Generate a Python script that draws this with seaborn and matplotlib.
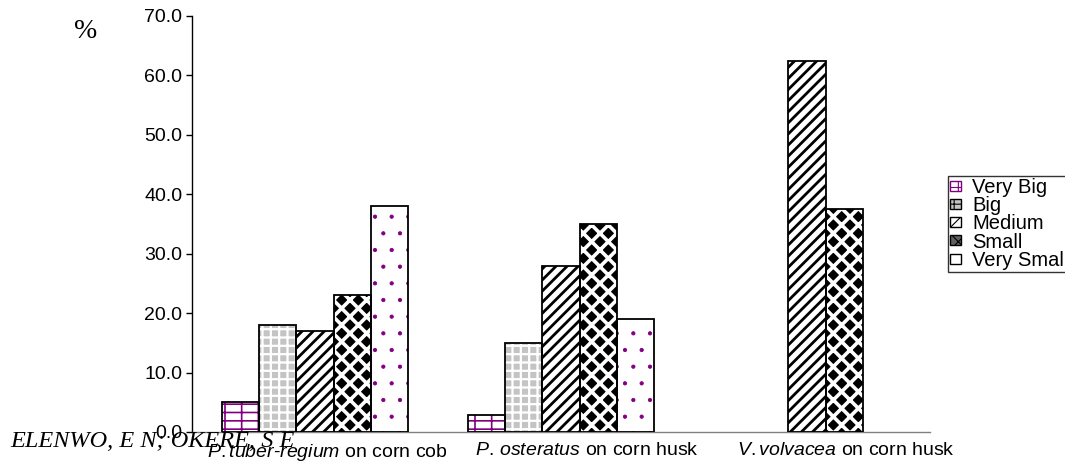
import numpy as np
import pandas as pd
import matplotlib
matplotlib.use('Agg')
import matplotlib.pyplot as plt
import matplotlib.transforms as mtransforms
import seaborn as sns
from matplotlib.patches import Patch, Rectangle

# data (percent of fruit bodies per size class)
substrates = ['P.tuber-regium on corn cob', 'P. osteratus on corn husk',
              'V.volvacea on corn husk']
tick_labels = [r'$\mathit{P.tuber}$-$\mathit{regium}$ on corn cob',
               r'$\mathit{P.\,osteratus}$ on corn husk',
               r'$\mathit{V.volvacea}$ on corn husk']
sizes = ['Very Big', 'Big', 'Medium', 'Small', 'Very Small']
very_big = [5.0, 2.8, np.nan]
big = [18.0, 15.0, np.nan]
medium = [17.0, 28.0, 62.5]
small = [23.0, 35.0, 37.5]
very_small = [38.0, 19.0, np.nan]
y_ticks = [0, 10, 20, 30, 40, 50, 60, 70]

values = [very_big, big, medium, small, very_small]
df = pd.DataFrame({
    'substrate': np.tile(substrates, len(sizes)),
    'size': np.repeat(sizes, len(substrates)),
    'percent': np.concatenate(values),
})

# fill style per size class: facecolor, hatch, hatch colour, hatch width
styles = {
    'Very Big': ('white', '--|', '#800080', 1.2),
    'Big': ('#c4c4c4', '++', 'white', 1.6),
    'Medium': ('white', '///', 'black', 2.0),
    'Small': ('black', 'xx', 'white', 2.6),
    'Very Small': ('white', '.', '#800080', 0.6),
}

sns.set_style('white')
plt.rcParams['font.family'] = ['Liberation Sans', 'DejaVu Sans']
plt.rcParams['mathtext.fontset'] = 'custom'
plt.rcParams['mathtext.it'] = 'Liberation Sans:italic'
plt.rcParams['mathtext.rm'] = 'Liberation Sans'
plt.rcParams['text.color'] = 'black'
plt.rcParams['xtick.color'] = 'black'
plt.rcParams['ytick.color'] = 'black'
plt.rcParams['hatch.linewidth'] = 0.8

fig = plt.figure(figsize=(10.65, 4.62), dpi=100)
ax = fig.add_axes([192 / 1065, 30 / 462, 738 / 1065, 416 / 462])

sns.barplot(
    data=df, x='substrate', y='percent', hue='size',
    order=substrates, hue_order=sizes,
    palette=['white'] * len(sizes), width=0.76, gap=0,
    errorbar=None, legend=False, ax=ax,
)

for size, container in zip(sizes, ax.containers):
    fc, hatch, hc, hlw = styles[size]
    for bar in container.patches:
        h = bar.get_height()
        if np.isnan(h) or h == 0:
            continue
        bar.set_facecolor(fc)
        bar.set_edgecolor(hc)
        bar.set_hatch(hatch)
        bar.set_linewidth(0)
        if hasattr(bar, 'set_hatch_linewidth'):
            bar.set_hatch_linewidth(hlw)
        ax.add_patch(Rectangle(
            (bar.get_x(), bar.get_y()), bar.get_width(), h,
            fill=False, edgecolor='black', linewidth=1.3, zorder=3
        ))

ax.set_xlim(-0.5, 2.5)
ax.set_ylim(0, 70)
ax.set_yticks(y_ticks)
ax.set_yticklabels(['{:.1f}'.format(v) for v in y_ticks], fontsize=14)
ax.set_xticks(range(len(substrates)))
ax.set_xticklabels(tick_labels, fontsize=14)
ax.set_xticks([-0.5, 0.5, 1.5, 2.5], minor=True)
ax.tick_params(axis='x', which='major', length=0, pad=7.5)
ax.tick_params(axis='x', which='minor', length=3, width=1,
               direction='out', color='#808080')
ax.tick_params(axis='y', length=4, width=1, direction='out',
               color='black', pad=3, left=True)
ax.set_xlabel('')
ax.set_ylabel('')
sns.despine(ax=ax)
ax.spines['left'].set_color('black')
ax.spines['left'].set_linewidth(1)
ax.spines['bottom'].set_color('#808080')
ax.spines['bottom'].set_linewidth(1)
ax.grid(False)

# the labels in the source sit a little to the right of the groups
for i, lab in enumerate(ax.get_xticklabels()):
    shift = mtransforms.ScaledTranslation((9 + 9.5 * i) / 72, 0,
                                          fig.dpi_scale_trans)
    lab.set_transform(lab.get_transform() + shift)

handles = []
for size in sizes:
    fc, hatch, hc, _ = styles[size]
    edge = '#800080' if size == 'Very Big' else 'black'
    handles.append(Patch(facecolor=fc if fc != 'black' else '#606060',
                         edgecolor=edge, hatch=hatch, linewidth=1))
leg = fig.legend(
    handles, sizes, loc='upper left',
    bbox_to_anchor=(948 / 1065, 1 - 176 / 462),
    fontsize=14.5, frameon=True, fancybox=False, borderaxespad=0,
    borderpad=0.1, handlelength=0.55, handleheight=0.4,
    handletextpad=0.55, labelspacing=-0.04,
)
leg.get_frame().set_edgecolor('black')
leg.get_frame().set_linewidth(1)

fig.text(86 / 1065, 1 - 31 / 462, '%', family='Liberation Serif',
         fontsize=20, ha='center', va='center')
fig.text(10 / 1065, 1 - 447 / 462, 'ELENWO, E N; OKERE, S E',
         family='Liberation Serif', style='italic', fontsize=17.5,
         ha='left', va='baseline')

fig.savefig('out.png', dpi=100)
